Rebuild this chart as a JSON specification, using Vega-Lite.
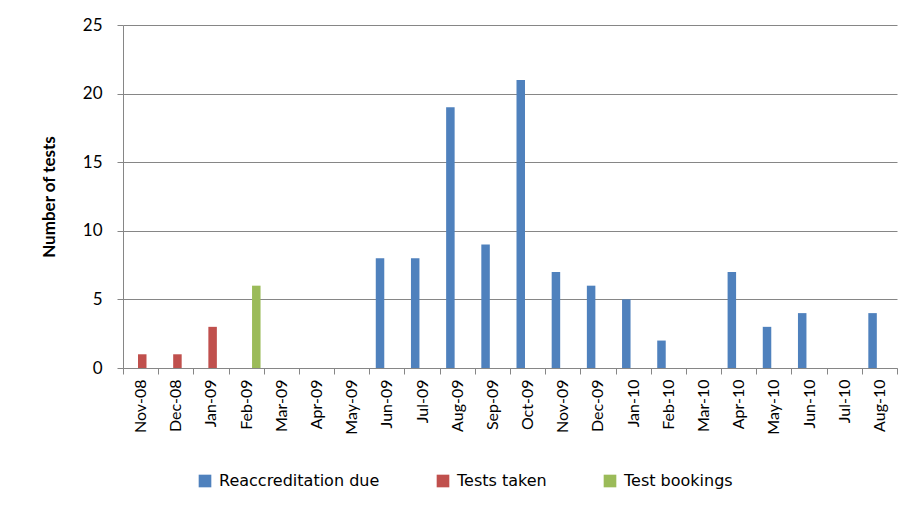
{
  "$schema": "https://vega.github.io/schema/vega-lite/v6.json",
  "width": 774,
  "height": 343,
  "autosize": {"type": "none"},
  "padding": {"left": 123, "top": 25, "right": 12, "bottom": 138},
  "background": "white",
  "data": {
    "values": [
      {"month": "Nov-08", "series": "Tests taken", "value": 1},
      {"month": "Dec-08", "series": "Tests taken", "value": 1},
      {"month": "Jan-09", "series": "Tests taken", "value": 3},
      {"month": "Feb-09", "series": "Test bookings", "value": 6},
      {"month": "Mar-09", "series": "Reaccreditation due", "value": 0},
      {"month": "Apr-09", "series": "Reaccreditation due", "value": 0},
      {"month": "May-09", "series": "Reaccreditation due", "value": 0},
      {"month": "Jun-09", "series": "Reaccreditation due", "value": 8},
      {"month": "Jul-09", "series": "Reaccreditation due", "value": 8},
      {"month": "Aug-09", "series": "Reaccreditation due", "value": 19},
      {"month": "Sep-09", "series": "Reaccreditation due", "value": 9},
      {"month": "Oct-09", "series": "Reaccreditation due", "value": 21},
      {"month": "Nov-09", "series": "Reaccreditation due", "value": 7},
      {"month": "Dec-09", "series": "Reaccreditation due", "value": 6},
      {"month": "Jan-10", "series": "Reaccreditation due", "value": 5},
      {"month": "Feb-10", "series": "Reaccreditation due", "value": 2},
      {"month": "Mar-10", "series": "Reaccreditation due", "value": 0},
      {"month": "Apr-10", "series": "Reaccreditation due", "value": 7},
      {"month": "May-10", "series": "Reaccreditation due", "value": 3},
      {"month": "Jun-10", "series": "Reaccreditation due", "value": 4},
      {"month": "Jul-10", "series": "Reaccreditation due", "value": 0},
      {"month": "Aug-10", "series": "Reaccreditation due", "value": 4}
    ]
  },
  "mark": {"type": "bar"},
  "encoding": {
    "x": {
      "field": "month",
      "type": "nominal",
      "sort": null,
      "scale": {"paddingInner": 0, "paddingOuter": 0},
      "axis": {
        "title": null,
        "labelAngle": 270,
        "labelAlign": "right",
        "labelBaseline": "middle",
        "labelFont": "Lato",
        "labelFontSize": 16,
        "labelColor": "#000000",
        "labelPadding": 5,
        "tickBand": "extent",
        "tickSize": 6,
        "tickColor": "#868686",
        "domainColor": "#868686",
        "grid": false
      }
    },
    "xOffset": {
      "field": "series",
      "type": "nominal",
      "scale": {"domain": ["Reaccreditation due", "Tests taken", "Test bookings"], "range": [6.5, 32], "paddingInner": 0, "paddingOuter": 0}
    },
    "y": {
      "field": "value",
      "type": "quantitative",
      "scale": {"domain": [0, 25]},
      "axis": {
        "title": "Number of tests",
        "titleFont": "Lato",
        "titleFontSize": 17,
        "titleFontWeight": "bold",
        "titleColor": "#000000",
        "titlePadding": 24,
        "values": [0, 5, 10, 15, 20, 25],
        "labelFont": "Lato",
        "labelFontSize": 17,
        "labelColor": "#000000",
        "labelPadding": 15,
        "tickSize": 6,
        "tickColor": "#868686",
        "domainColor": "#868686",
        "gridColor": "#868686",
        "gridWidth": 1
      }
    },
    "color": {
      "field": "series",
      "type": "nominal",
      "scale": {
        "domain": ["Reaccreditation due", "Tests taken", "Test bookings"],
        "range": ["#4F81BD", "#C0504D", "#9BBB59"]
      },
      "legend": {
        "title": null,
        "orient": "none",
        "direction": "horizontal",
        "legendX": 74,
        "legendY": 448,
        "symbolType": "square",
        "symbolSize": 160,
        "symbolStrokeWidth": 0,
        "labelFont": "DejaVu Sans",
        "labelFontSize": 16,
        "labelLimit": 0,
        "labelColor": "#000000",
        "labelOffset": 6,
        "columnPadding": 55
      }
    }
  },
  "config": {
    "view": {"stroke": null}
  }
}
